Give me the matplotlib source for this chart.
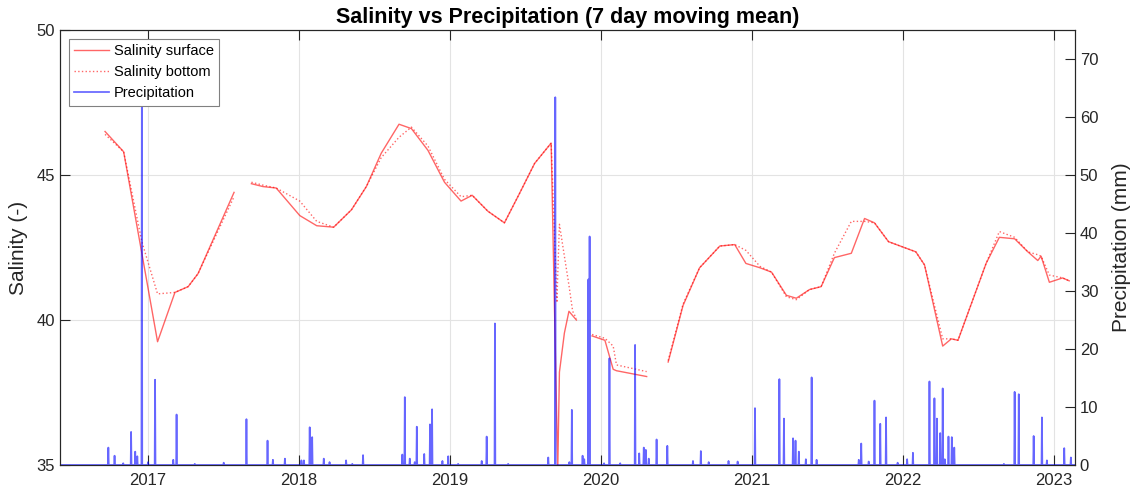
import numpy as np
import pandas as pd
import matplotlib
matplotlib.use('Agg')
import matplotlib.pyplot as plt
import matplotlib.dates as mdates

plt.rcParams['font.family'] = ['Liberation Sans', 'DejaVu Sans']

# salinity samples (7 day moving mean), NaN rows split the record into its gaps
sal_dates = [
    '2016-09-19', '2016-11-03', '2016-12-17', '2017-01-24', '2017-03-07', '2017-04-08',
    '2017-05-02', '2017-07-28', '2017-08-15',
    '2017-09-08', '2017-10-06', '2017-11-07', '2018-01-03', '2018-02-13', '2018-03-26',
    '2018-05-08', '2018-06-13', '2018-07-19', '2018-08-31', '2018-09-30', '2018-11-09',
    '2018-12-19', '2019-01-28', '2019-02-24', '2019-04-03', '2019-05-13', '2019-06-18',
    '2019-07-25', '2019-09-03', '2019-09-17', '2019-09-19', '2019-09-23', '2019-10-05',
    '2019-10-16', '2019-10-25', '2019-11-03', '2019-11-20',
    '2019-12-11', '2020-01-11', '2020-01-31', '2020-02-08', '2020-04-21', '2020-05-15',
    '2020-06-12', '2020-07-18', '2020-08-27', '2020-10-15', '2020-11-20', '2020-12-17',
    '2021-01-20', '2021-02-17', '2021-03-25', '2021-04-18', '2021-05-20', '2021-06-17',
    '2021-07-19', '2021-08-29', '2021-09-30', '2021-10-24', '2021-11-27', '2022-02-01',
    '2022-02-22', '2022-04-07', '2022-04-28', '2022-05-14', '2022-07-21', '2022-08-22',
    '2022-09-28', '2022-10-30', '2022-11-23', '2022-12-01', '2022-12-21', '2023-01-22',
    '2023-02-07',
]
sal_surface = [
    46.5, 45.8, 42.3, 39.25, 40.95, 41.15,
    41.6, 44.4, np.nan,
    44.7, 44.6, 44.55, 43.6, 43.25, 43.2,
    43.8, 44.6, 45.75, 46.75, 46.6, 45.85,
    44.75, 44.1, 44.3, 43.75, 43.35, 44.35,
    45.4, 46.1, 36.2, 34.9, 38.2, 39.55,
    40.3, 40.15, 40.0, np.nan,
    39.45, 39.3, 38.3, 38.25, 38.05, np.nan,
    38.55, 40.5, 41.8, 42.55, 42.6, 41.95,
    41.8, 41.65, 40.85, 40.75, 41.05, 41.15,
    42.15, 42.3, 43.5, 43.35, 42.7, 42.35,
    41.9, 39.1, 39.35, 39.3, 41.95, 42.85,
    42.8, 42.35, 42.05, 42.2, 41.3, 41.45,
    41.35,
]
sal_bottom = [
    46.4, 45.8, 42.7, 40.9, 40.95, 41.15,
    41.6, 44.25, np.nan,
    44.75, 44.65, 44.55, 44.1, 43.4, 43.2,
    43.8, 44.6, 45.6, 46.3, 46.65, 46.0,
    44.85, 44.25, 44.3, 43.75, 43.35, 44.35,
    45.4, 46.1, 40.6, 41.6, 43.3, 42.2,
    41.2, 40.3, 40.05, np.nan,
    39.5, 39.37, 39.1, 38.45, 38.22, np.nan,
    38.6, 40.55, 41.8, 42.55, 42.6, 42.4,
    41.85, 41.65, 40.8, 40.7, 41.05, 41.15,
    42.3, 43.4, 43.4, 43.35, 42.7, 42.35,
    41.9, 39.35, 39.35, 39.3, 41.95, 43.05,
    42.85, 42.35, 42.25, 42.2, 41.55, 41.45,
    41.35,
]

# precipitation peaks (mm, 7 day moving mean); all other days are dry
rain_dates = [
    '2016-09-27', '2016-10-12', '2016-11-02', '2016-11-21', '2016-12-01', '2016-12-06', '2016-12-17',
    '2017-01-01', '2017-01-18', '2017-03-03', '2017-03-11', '2017-04-24', '2017-07-03', '2017-08-27',
    '2017-10-17', '2017-10-30', '2017-11-28',
    '2018-01-07', '2018-01-13', '2018-01-27', '2018-02-02', '2018-03-02', '2018-03-16', '2018-04-25',
    '2018-05-10', '2018-06-05', '2018-09-08', '2018-09-14', '2018-09-26', '2018-10-08', '2018-10-13',
    '2018-10-31', '2018-11-14', '2018-11-19', '2018-12-14', '2018-12-28',
    '2019-01-21', '2019-03-19', '2019-03-31', '2019-04-20', '2019-05-22', '2019-08-27', '2019-09-13',
    '2019-10-17', '2019-10-23', '2019-11-18', '2019-11-22', '2019-12-02', '2019-12-05',
    '2020-01-09', '2020-01-22', '2020-02-17', '2020-03-24', '2020-04-03', '2020-04-14', '2020-04-19',
    '2020-04-26', '2020-05-15', '2020-06-10', '2020-08-11', '2020-08-30', '2020-09-18', '2020-11-05',
    '2020-11-27',
    '2021-01-08', '2021-03-08', '2021-03-19', '2021-04-10', '2021-04-16', '2021-04-24', '2021-05-11',
    '2021-05-25', '2021-06-06', '2021-09-16', '2021-09-22', '2021-10-10', '2021-10-24', '2021-11-07',
    '2021-11-21', '2021-12-19',
    '2022-01-11', '2022-01-25', '2022-03-06', '2022-03-18', '2022-03-24', '2022-04-01', '2022-04-07',
    '2022-04-12', '2022-04-21', '2022-04-29', '2022-05-05', '2022-09-02', '2022-09-28', '2022-10-08',
    '2022-11-13', '2022-12-03', '2022-12-15',
    '2023-01-26', '2023-02-11',
]
rain_mm = [
    3.0, 1.6, 0.3, 5.7, 2.3, 1.5, 68.0,
    0.5, 14.7, 0.9, 8.7, 0.2, 0.4, 7.9,
    4.2, 0.9, 1.1,
    0.8, 0.8, 6.5, 4.8, 1.1, 0.5, 0.8,
    0.2, 1.7, 1.8, 11.7, 1.1, 0.5, 6.6,
    1.9, 7.0, 9.6, 0.7, 1.5,
    0.2, 0.7, 4.9, 24.4, 0.2, 1.3, 63.4,
    0.5, 9.5, 1.6, 1.0, 32.0, 39.4,
    0.3, 18.4, 0.3, 20.7, 2.0, 3.0, 2.6,
    1.1, 4.4, 3.3, 0.7, 2.4, 0.5, 0.7,
    0.6,
    9.8, 14.8, 8.0, 4.6, 4.2, 2.3, 1.0,
    15.1, 0.9, 0.9, 3.7, 0.6, 11.1, 7.1,
    8.2, 0.4,
    1.0, 2.1, 14.4, 11.5, 8.0, 5.5, 13.2,
    1.0, 4.9, 4.8, 3.0, 0.2, 12.6, 12.2,
    5.0, 8.2, 0.8,
    2.9, 1.3,
]

start, end = pd.Timestamp('2016-06-02'), pd.Timestamp('2023-02-21')

sal = pd.DataFrame({'surface': sal_surface, 'bottom': sal_bottom},
                   index=pd.to_datetime(sal_dates))
rain = pd.Series(0.0, index=pd.date_range(start, end, freq='D'))
rain[pd.to_datetime(rain_dates)] = rain_mm

fig = plt.figure(figsize=(11.36, 4.98), dpi=100)
ax = fig.add_axes([0.0528, 0.0663, 0.8935, 0.8735])
ax2 = ax.twinx()

l1, = ax.plot(sal.index, sal['surface'], color='#ff0000', alpha=0.6, lw=1.0,
              label='Salinity surface')
l2, = ax.plot(sal.index, sal['bottom'], color='#ff0000', alpha=0.6, lw=1.0,
              ls=':', label='Salinity bottom')
l3, = ax2.plot(rain.index, rain.values, color='#0000ff', alpha=0.6, lw=1.25,
               label='Precipitation')

ax.set_xlim(start, end)
ax.set_ylim(35, 50)
ax.set_yticks([35, 40, 45, 50])
ax2.set_ylim(0, 75)
ax2.set_yticks(range(0, 71, 10))

ax.xaxis.set_major_locator(mdates.YearLocator())
ax.xaxis.set_major_formatter(mdates.DateFormatter('%Y'))

ax.grid(True, color='#e3e3e3', lw=0.8)
ax.set_axisbelow(True)

dark = '#262626'
for a in (ax, ax2):
    for sp in a.spines.values():
        sp.set_color(dark)
        sp.set_linewidth(0.8)
    a.tick_params(direction='in', length=7, width=0.8, colors=dark, labelsize=12)
ax.tick_params(axis='x', top=True, pad=6)

ax.set_ylabel('Salinity (-)', fontsize=15, color=dark, labelpad=6)
ax2.set_ylabel('Precipitation (mm)', fontsize=15, color=dark, labelpad=10)
ax.set_title('Salinity vs Precipitation (7 day moving mean)', fontsize=15.5,
             fontweight='bold', color='black', pad=5)

leg = ax2.legend(handles=[l1, l2, l3], loc='upper left', fontsize=10.5,
                 fancybox=False, framealpha=1, edgecolor='#808080',
                 borderaxespad=0.6, handlelength=2.4, handletextpad=0.35,
                 borderpad=0.35, labelspacing=0.5)
leg.get_frame().set_linewidth(0.8)

plt.savefig('out.png', dpi=100)
plt.close()
